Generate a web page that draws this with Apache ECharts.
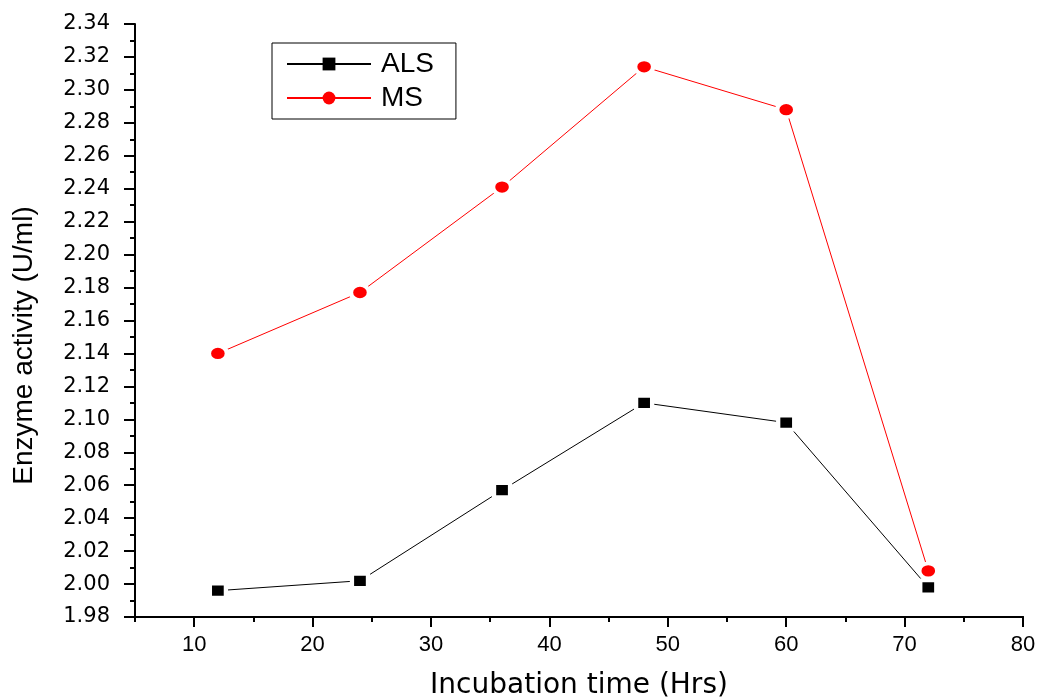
<!DOCTYPE html>
<html>
<head>
<meta charset="utf-8">
<script src="https://cdn.jsdelivr.net/npm/echarts@6/dist/echarts.min.js"></script>
<style>html,body{margin:0;padding:0;background:#fff;}#chart{width:1040px;height:698px;}</style>
</head>
<body>
<div id="chart"></div>
<script>
const hours = [12, 24, 36, 48, 60, 72];
const alsValues = [1.996, 2.002, 2.057, 2.110, 2.098, 1.998];
const msValues = [2.140, 2.177, 2.241, 2.314, 2.288, 2.008];
const xMajorTicks = [10, 20, 30, 40, 50, 60, 70, 80];
const seriesNames = ['ALS', 'MS'];

const chart = echarts.init(document.getElementById('chart'), null, {renderer: 'canvas'});
const pair = (xs, ys) => xs.map((x, i) => [x, ys[i]]);

chart.setOption({
  animation: false,
  backgroundColor: '#fff',
  grid: {left: 135, right: 17, top: 24, bottom: 81, containLabel: false, outerBoundsMode: 'none'},
  legend: {
    orient: 'vertical',
    left: 272, top: 43,
    data: seriesNames,
    itemWidth: 84, itemHeight: 16, itemGap: 6,
    padding: [7, 22, 7, 14],
    borderColor: '#000', borderWidth: 1,
    itemStyle: {borderWidth: 0},
    textStyle: {fontFamily: 'Liberation Sans', fontSize: 28, color: '#000', padding: [0, 0, 0, 5]}
  },
  xAxis: [{
    type: 'value', min: 5, max: 80, interval: 5, position: 'bottom',
    axisLine: {show: true, lineStyle: {color: '#000', width: 2}},
    axisTick: {show: true, length: 5, lineStyle: {color: '#000', width: 2}},
    axisLabel: {show: false},
    splitLine: {show: false}
  }, {
    type: 'value', min: 5, max: 80, position: 'bottom',
    name: 'Incubation time (Hrs)', nameLocation: 'middle', nameGap: 55,
    nameTextStyle: {fontFamily: 'DejaVu Sans', fontSize: 28, color: '#000'},
    axisLine: {show: true, onZero: false, lineStyle: {color: '#000', width: 2}},
    axisTick: {show: true, length: 10, customValues: xMajorTicks, lineStyle: {color: '#000', width: 2}},
    axisLabel: {show: true, customValues: xMajorTicks, margin: 17, fontFamily: 'Liberation Sans', fontSize: 22, color: '#000'},
    splitLine: {show: false}
  }],
  yAxis: {
    type: 'value', min: 1.98, max: 2.34, interval: 0.02,
    name: 'Enzyme activity (U/ml)', nameLocation: 'middle', nameGap: 97,
    nameTextStyle: {fontFamily: 'Liberation Sans', fontSize: 28, color: '#000', padding: [0, 50, 0, 0]},
    axisLine: {show: true, lineStyle: {color: '#000', width: 2}},
    axisTick: {show: true, length: 11, lineStyle: {color: '#000', width: 2}},
    minorTick: {show: true, splitNumber: 2, length: 5, lineStyle: {color: '#000', width: 2}},
    axisLabel: {margin: 25, fontFamily: 'DejaVu Sans', fontSize: 21, color: '#000', formatter: v => v.toFixed(2)},
    splitLine: {show: false}
  },
  series: [{
    name: 'ALS', type: 'line', xAxisIndex: 0,
    data: pair(hours, alsValues),
    symbol: 'rect', symbolSize: [16, 14],
    lineStyle: {color: '#000', width: 1},
    itemStyle: {color: '#000', borderColor: '#fff', borderWidth: 4},
    z: 3
  }, {
    name: 'MS', type: 'line', xAxisIndex: 0,
    data: pair(hours, msValues),
    symbol: 'circle', symbolSize: [18, 15],
    lineStyle: {color: '#ff0000', width: 1},
    itemStyle: {color: '#ff0000', borderColor: '#fff', borderWidth: 4},
    z: 2
  }]
});
</script>
</body>
</html>
